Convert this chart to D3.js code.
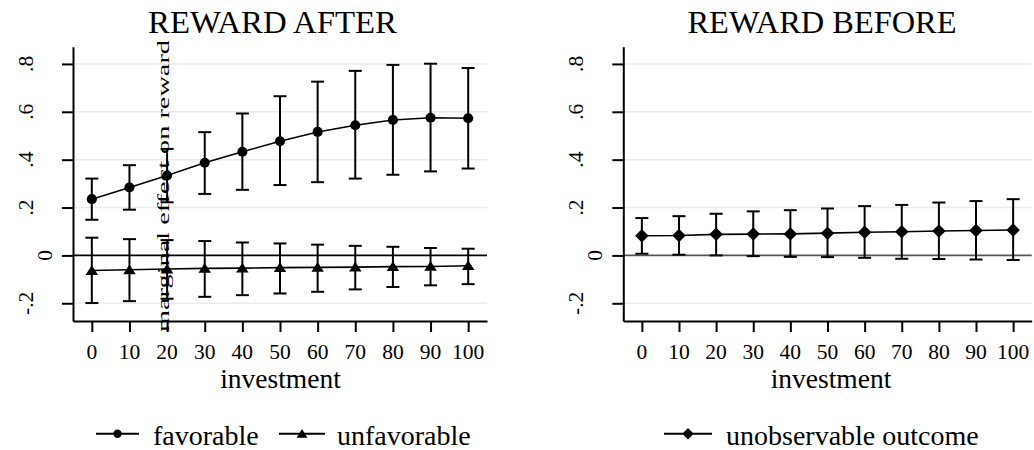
<!DOCTYPE html>
<html>
<head>
<meta charset="utf-8">
<script src="https://cdn.jsdelivr.net/npm/d3@7/dist/d3.min.js"></script>
<style>
  html, body { margin: 0; padding: 0; background: #fff; }
  svg { display: block; }
  text { font-family: "Liberation Serif", "Times New Roman", serif; fill: #000; }
</style>
</head>
<body>
<svg id="chart" width="1034" height="450"></svg>
<script>
// ---------------- DATA ----------------
const investment = [0, 10, 20, 30, 40, 50, 60, 70, 80, 90, 100];
const xTickLabels = ["0", "10", "20", "30", "40", "50", "60", "70", "80", "90", "100"];
const yTickValues = [-0.2, 0, 0.2, 0.4, 0.6, 0.8];
const yTickLabels = ["-.2", "0", ".2", ".4", ".6", ".8"];

// Panel 1: REWARD AFTER
const favorable   = [0.235, 0.284, 0.334, 0.387, 0.433, 0.477, 0.516, 0.544, 0.566, 0.575, 0.573];
const favorableLo = [0.149, 0.191, 0.222, 0.257, 0.274, 0.294, 0.306, 0.321, 0.337, 0.351, 0.363];
const favorableHi = [0.321, 0.377, 0.445, 0.515, 0.593, 0.665, 0.726, 0.771, 0.796, 0.801, 0.783];

const unfavorable   = [-0.063, -0.060, -0.057, -0.054, -0.053, -0.051, -0.050, -0.049, -0.047, -0.046, -0.043];
const unfavorableLo = [-0.199, -0.191, -0.181, -0.173, -0.166, -0.159, -0.152, -0.142, -0.132, -0.125, -0.120];
const unfavorableHi = [0.074, 0.068, 0.064, 0.060, 0.054, 0.050, 0.045, 0.040, 0.036, 0.031, 0.028];

// Panel 2: REWARD BEFORE
const unobservable   = [0.082, 0.083, 0.088, 0.089, 0.090, 0.093, 0.097, 0.099, 0.102, 0.104, 0.106];
const unobservableLo = [0.007, 0.003, 0.000, -0.003, -0.006, -0.007, -0.010, -0.014, -0.015, -0.017, -0.019];
const unobservableHi = [0.156, 0.164, 0.174, 0.184, 0.189, 0.196, 0.206, 0.211, 0.221, 0.227, 0.235];

const panelTitles = ["REWARD AFTER", "REWARD BEFORE"];
const xAxisTitle = "investment";
const yAxisTitle = "marginal effect on reward";
const legendLabels = [["favorable", "unfavorable"], ["unobservable outcome"]];

// ---------------- LAYOUT ----------------
const svg = d3.select("#chart");
const FONT_TICK = 21.5;

const panels = [
  { x0: 73, x1: 487, titleX: 272.5, titleW: 249, xTitleX: 280.5, zeroColor: "#000",
    series: [
      { name: legendLabels[0][0], y: favorable, lo: favorableLo, hi: favorableHi, marker: "circle" },
      { name: legendLabels[0][1], y: unfavorable, lo: unfavorableLo, hi: unfavorableHi, marker: "triangle" }
    ],
    legend: [ { lineX0: 96, lineX1: 139, textX: 153 }, { lineX0: 279, lineX1: 325, textX: 337 } ],
    yTitle: true },
  { x0: 623.3, x1: 1031.7, titleX: 822, titleW: 269, xTitleX: 831, zeroColor: "#555",
    series: [
      { name: legendLabels[1][0], y: unobservable, lo: unobservableLo, hi: unobservableHi, marker: "diamond" }
    ],
    legend: [ { lineX0: 664, lineX1: 712, textX: 726 } ],
    yTitle: false }
];

const yTop = 46.7, yBottom = 321;
const y = d3.scaleLinear().domain([-0.274, 0.872]).range([yBottom, yTop]);

function markerPath(type, size) {
  if (type === "circle") return d3.symbol(d3.symbolCircle, size)();
  if (type === "triangle") {
    const w = size, h = size * 0.78;
    return `M0,${-h * 0.55}L${w / 2},${h * 0.45}L${-w / 2},${h * 0.45}Z`;
  }
  const s = size / 2;
  return `M0,${-s}L${s},0L0,${s}L${-s},0Z`;
}

panels.forEach((p, pi) => {
  const g = svg.append("g");
  const x = d3.scaleLinear().domain([-5, 105]).range([p.x0, p.x1]);

  // gridlines
  g.selectAll(".grid").data(yTickValues.filter(v => v !== 0)).join("line")
    .attr("x1", p.x0).attr("x2", p.x1)
    .attr("y1", d => y(d)).attr("y2", d => y(d))
    .attr("stroke", "#ebebeb").attr("stroke-width", 1.6);

  // zero line
  g.append("line")
    .attr("x1", p.x0).attr("x2", p.x1).attr("y1", y(0)).attr("y2", y(0))
    .attr("stroke", p.zeroColor).attr("stroke-width", 1.6);

  // y axis
  const yAxis = d3.axisLeft(y).tickValues(yTickValues).tickSize(11).tickSizeOuter(0).tickFormat("");
  const ya = g.append("g").attr("transform", `translate(${p.x0},0)`).call(yAxis);
  ya.selectAll("path, line").attr("stroke", "#000").attr("stroke-width", 2);

  // x axis
  const xAxis = d3.axisBottom(x).tickValues(investment).tickSize(11).tickSizeOuter(0).tickFormat("");
  const xa = g.append("g").attr("transform", `translate(0,${yBottom})`).call(xAxis);
  xa.selectAll("path, line").attr("stroke", "#000").attr("stroke-width", 2);

  // y tick labels (rotated)
  g.selectAll(".ylab").data(yTickValues).join("text")
    .attr("transform", (d) => `translate(${p.x0 - (d === 0 ? 21.5 : 40)},${y(d)}) rotate(-90)`)
    .attr("text-anchor", "middle")
    .attr("font-size", FONT_TICK)
    .text((d, i) => yTickLabels[i]);

  // x tick labels
  g.selectAll(".xlab").data(investment).join("text")
    .attr("x", d => x(d)).attr("y", 358.5)
    .attr("text-anchor", "middle")
    .attr("font-size", FONT_TICK)
    .text((d, i) => xTickLabels[i]);

  // x title
  g.append("text").attr("x", p.xTitleX).attr("y", 387.5)
    .attr("text-anchor", "middle").attr("font-size", 27.5).text(xAxisTitle);

  // panel title
  g.append("text").attr("x", p.titleX).attr("y", 33.3)
    .attr("text-anchor", "middle").attr("font-size", 31)
    .attr("textLength", p.titleW).attr("lengthAdjust", "spacingAndGlyphs")
    .text(panelTitles[pi]);

  // series
  p.series.forEach((s, si) => {
    const pts = investment.map((v, i) => ({ x: v, y: s.y[i], lo: s.lo[i], hi: s.hi[i] }));
    const cap = 6.5;
    const eg = g.append("g").attr("stroke", "#000").attr("stroke-width", 2).attr("fill", "none");
    eg.selectAll(".v").data(pts).join("line")
      .attr("x1", d => x(d.x)).attr("x2", d => x(d.x))
      .attr("y1", d => y(d.lo)).attr("y2", d => y(d.hi));
    eg.selectAll(".ch").data(pts).join("line")
      .attr("x1", d => x(d.x) - cap).attr("x2", d => x(d.x) + cap)
      .attr("y1", d => y(d.hi)).attr("y2", d => y(d.hi));
    eg.selectAll(".cl").data(pts).join("line")
      .attr("x1", d => x(d.x) - cap).attr("x2", d => x(d.x) + cap)
      .attr("y1", d => y(d.lo)).attr("y2", d => y(d.lo));

    g.append("path").datum(pts)
      .attr("d", d3.line().x(d => x(d.x)).y(d => y(d.y)))
      .attr("fill", "none").attr("stroke", "#000").attr("stroke-width", 1.6);

    const mSize = s.marker === "circle" ? 80 : (s.marker === "triangle" ? 12.5 : 13.5);
    g.selectAll(".m" + si).data(pts).join("path")
      .attr("transform", d => `translate(${x(d.x)},${y(d.y)})`)
      .attr("d", markerPath(s.marker, mSize))
      .attr("fill", "#000");

    // legend
    const L = p.legend[si];
    const ly = 433.8;
    g.append("line").attr("x1", L.lineX0).attr("x2", L.lineX1).attr("y1", ly).attr("y2", ly)
      .attr("stroke", "#000").attr("stroke-width", 2);
    const lSize = s.marker === "circle" ? 55 : (s.marker === "triangle" ? 11 : 11.5);
    g.append("path")
      .attr("transform", `translate(${(L.lineX0 + L.lineX1) / 2},${ly})`)
      .attr("d", markerPath(s.marker, lSize)).attr("fill", "#000");
    g.append("text").attr("x", L.textX).attr("y", 445)
      .attr("font-size", 28).text(s.name);
  });

  // y axis title (rotated, drawn over the plot as in the reference)
  if (p.yTitle) {
    g.append("text")
      .attr("transform", `translate(168.5,186) rotate(-90)`)
      .attr("text-anchor", "middle")
      .attr("font-size", 17)
      .attr("textLength", 292)
      .attr("lengthAdjust", "spacingAndGlyphs")
      .text(yAxisTitle);
  }
});
</script>
</body>
</html>
